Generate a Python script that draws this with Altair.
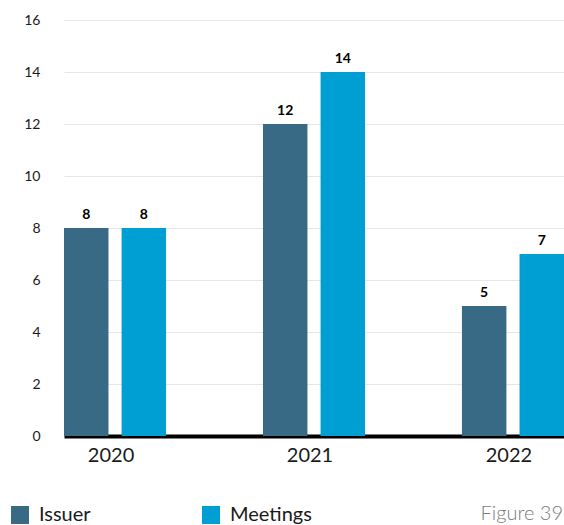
import altair as alt
import pandas as pd

years = ["2020", "2021", "2022"]
issuer = [8, 12, 5]
meetings = [8, 14, 7]
series = ["Issuer", "Meetings"]
colors = ["#386985", "#009fd3"]
y_ticks = [0, 2, 4, 6, 8, 10, 12, 14, 16]
figure_label = ["Figure 39"]

rows = []
for i, yr in enumerate(years):
    rows.append({"year": yr, "series": "Issuer", "value": issuer[i]})
    rows.append({"year": yr, "series": "Meetings", "value": meetings[i]})
df = pd.DataFrame(rows)

FONT = "Lato"

x = alt.X("year:N", sort=years, title=None,
          scale=alt.Scale(paddingInner=0.487, paddingOuter=0),
          axis=alt.Axis(labelAngle=0, labelFontSize=20, labelColor="#1a1a1a",
                        labelPadding=9, labelOffset=-4, ticks=False,
                        domainColor="#000000",
                        domainWidth=4, labelFont=FONT, grid=False,
                        labelFontWeight="normal"))
xo = alt.XOffset("series:N", sort=series,
                 scale=alt.Scale(paddingInner=0.228, paddingOuter=0))
y = alt.Y("value:Q", title=None,
          scale=alt.Scale(domain=[0, 16], nice=False),
          axis=alt.Axis(values=y_ticks, labelFontSize=14, labelColor="#1a1a1a",
                        labelPadding=24, ticks=False, domain=False,
                        gridColor="#e6e6e6", gridWidth=1, labelFont=FONT,
                        labelFontWeight="normal"))
color = alt.Color("series:N", sort=series,
                  scale=alt.Scale(domain=series, range=colors),
                  legend=alt.Legend(title=None, orient="none", direction="horizontal",
                                    legendX=-54, legendY=485,
                                    symbolType="square", symbolSize=324,
                                    symbolStrokeWidth=0, symbolOpacity=1,
                                    labelFontSize=20, labelFont=FONT,
                                    labelColor="#1a1a1a", labelOffset=9,
                                    columnPadding=110))

base = alt.Chart(df)
bars = base.mark_bar().encode(x=x, xOffset=xo, y=y, color=color)
labels = base.mark_text(baseline="bottom", dy=-6, fontSize=14, fontWeight="bold",
                        font=FONT, color="#000000").encode(
    x=alt.X("year:N", sort=years), xOffset=xo, y="value:Q", text="value:Q")

fig = alt.Chart(pd.DataFrame({"t": figure_label})).mark_text(
    align="right", baseline="bottom", fontSize=20, font=FONT, fontWeight=300,
    color="#7a7a7a").encode(x=alt.value(499), y=alt.value(504), text="t:N")

chart = alt.layer(bars, labels, fig).properties(
    width=500, height=416,
    background="white",
    autosize=alt.AutoSizeParams(type="none"),
    padding={"left": 64, "top": 20, "right": 0, "bottom": 89},
).configure_view(stroke=None)

chart.save("out.html", embed_options={"renderer": "svg", "actions": False})
